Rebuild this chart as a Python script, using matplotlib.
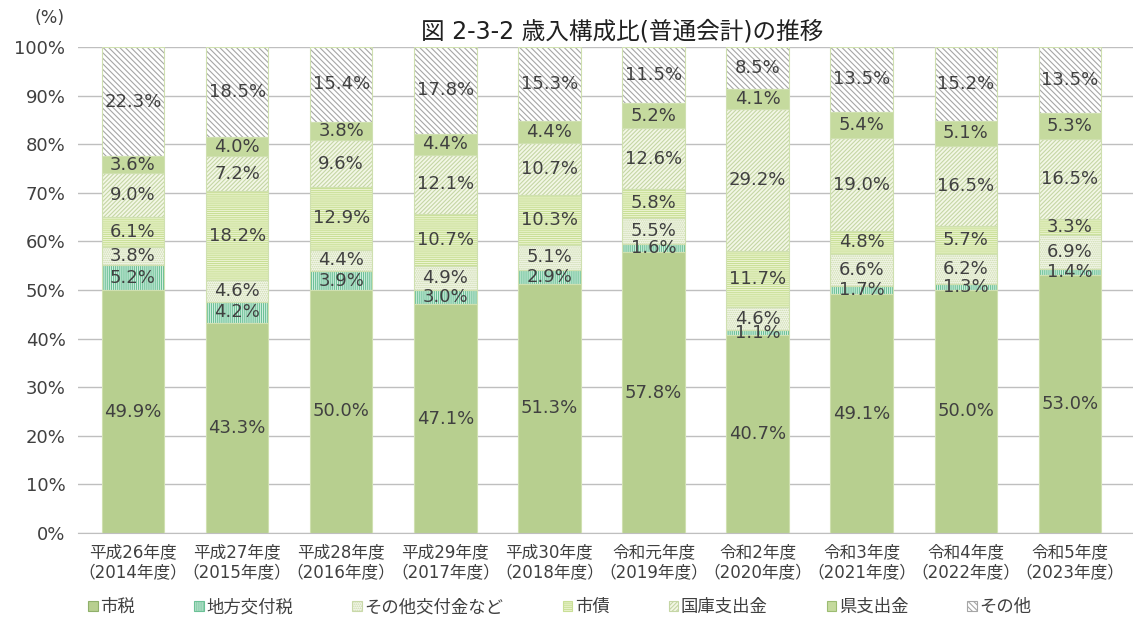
import matplotlib
matplotlib.use("Agg")
import matplotlib.pyplot as plt
from matplotlib.patches import Patch
import numpy as np

plt.rcParams['font.family'] = ['DejaVu Sans', 'Noto Sans CJK JP']
plt.rcParams['hatch.linewidth'] = 0.8

categories = ["平成26年度\n（2014年度）", "平成27年度\n（2015年度）", "平成28年度\n（2016年度）",
              "平成29年度\n（2017年度）", "平成30年度\n（2018年度）", "令和元年度\n（2019年度）",
              "令和2年度\n（2020年度）", "令和3年度\n（2021年度）", "令和4年度\n（2022年度）",
              "令和5年度\n（2023年度）"]

series_names = ["市税", "地方交付税", "その他交付金など", "市債", "国庫支出金", "県支出金", "その他"]

shizei      = [49.9, 43.3, 50.0, 47.1, 51.3, 57.8, 40.7, 49.1, 50.0, 53.0]
kofuzei     = [5.2, 4.2, 3.9, 3.0, 2.9, 1.6, 1.1, 1.7, 1.3, 1.4]
sonota_kofu = [3.8, 4.6, 4.4, 4.9, 5.1, 5.5, 4.6, 6.6, 6.2, 6.9]
shisai      = [6.1, 18.2, 12.9, 10.7, 10.3, 5.8, 11.7, 4.8, 5.7, 3.3]
kokko       = [9.0, 7.2, 9.6, 12.1, 10.7, 12.6, 29.2, 19.0, 16.5, 16.5]
ken         = [3.6, 4.0, 3.8, 4.4, 4.4, 5.2, 4.1, 5.4, 5.1, 5.3]
sonota      = [22.3, 18.5, 15.4, 17.8, 15.3, 11.5, 8.5, 13.5, 15.2, 13.5]

series = [shizei, kofuzei, sonota_kofu, shisai, kokko, ken, sonota]

faces   = ["#b7cf8f", "#d6f0e2", "#f5f8ec", "#edf5d3", "#f3f7e6", "#c5da9e", "#ffffff"]
hcolors = ["#b7cf8f", "#6cc197", "#c9d9a9", "#c9df96", "#c5d6a5", "#c5da9e", "#a6a6a6"]
hatches = [None, "||||||||", "........", "--------", "////////", None, "\\\\\\\\\\\\"]
edge = "#cfe0b0"
txt = "#404040"

fig = plt.figure(figsize=(11.33, 6.26), dpi=100)
ax = fig.add_axes([78/1133, 93/626, (1133-78)/1133, 486/626])

x = np.arange(len(categories))
width = 0.6
bottom = np.zeros(len(categories))
for vals, fc, hc, h in zip(series, faces, hcolors, hatches):
    v = np.array(vals)
    ax.bar(x, v, width, bottom=bottom, color=fc, edgecolor=hc, hatch=h, linewidth=0, zorder=2)
    ax.bar(x, v, width, bottom=bottom, fill=False, edgecolor=edge, linewidth=0.8, zorder=3)
    for xi, b, val in zip(x, bottom, v):
        ax.text(xi, b + val / 2, f"{val:.1f}%", ha="center", va="center",
                fontsize=13, color=txt, zorder=4)
    bottom += v

ax.set_xlim(-0.528, 9.606)
ax.set_ylim(0, 100)
ax.set_yticks(np.arange(0, 101, 10))
ax.set_yticklabels([f"{t}%" for t in range(0, 101, 10)], fontsize=13, color=txt)
ax.set_xticks(x)
ax.set_xticklabels(categories, fontsize=12, color=txt, linespacing=1.25)
ax.tick_params(axis="both", length=0)
ax.tick_params(axis="y", pad=9)
ax.tick_params(axis="x", pad=7)
ax.grid(axis="y", color="#bfbfbf", linewidth=1, zorder=0)
for s in ["top", "right", "left"]:
    ax.spines[s].set_visible(False)
ax.spines["bottom"].set_color("#bfbfbf")

fig.text(622/1133, 1 - 31/626, "図 2-3-2 歳入構成比(普通会計)の推移", ha="center", va="center",
         fontsize=17, color="#202020")
fig.text(50/1133, 1 - 18/626, "(%)", ha="center", va="center", fontsize=12.5, color=txt)

handles = [Patch(facecolor=fc, edgecolor=hc, hatch=h, linewidth=0.8)
           for fc, hc, h in zip(faces, hcolors, hatches)]
handles[0].set_edgecolor("#8fb06a")
handles[5].set_edgecolor("#9cbc72")
leg = fig.legend(handles, series_names, loc="center", bbox_to_anchor=(560/1133, 1 - 607/626),
                 ncol=7, frameon=False, fontsize=12.5, handlelength=0.55, handleheight=0.55,
                 handletextpad=0.15, columnspacing=3.4)
for t in leg.get_texts():
    t.set_color(txt)

fig.savefig("out.png", dpi=100)
